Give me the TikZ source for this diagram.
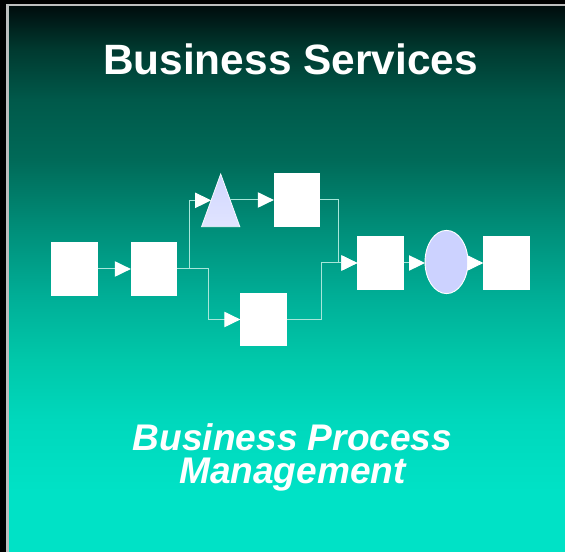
\documentclass[tikz,border=0pt]{standalone}
\usepackage{fontspec}
\setmainfont{Liberation Sans}
\usetikzlibrary{arrows.meta,shapes.geometric}
\definecolor{g0}{HTML}{000E0E}
\definecolor{g1}{HTML}{003A30}
\definecolor{g2}{HTML}{00594A}
\definecolor{g3}{HTML}{006A58}
\definecolor{g4}{HTML}{008F7A}
\definecolor{g5}{HTML}{00B098}
\definecolor{g6}{HTML}{00C8AA}
\definecolor{g7}{HTML}{00D8BC}
\definecolor{g8}{HTML}{00E2C6}
\definecolor{wirecol}{HTML}{A8E6DA}
\definecolor{frame}{HTML}{BEBEBE}
\definecolor{ellfill}{HTML}{CCD2FF}
\pgfdeclareverticalshading{slidebg}{100bp}{
  color(0bp)=(g8);
  color(25bp)=(g8);
  color(30.5bp)=(g8);
  color(37.1bp)=(g7);
  color(42.6bp)=(g6);
  color(48.1bp)=(g5);
  color(54.5bp)=(g4);
  color(61bp)=(g3);
  color(66.5bp)=(g2);
  color(71.05bp)=(g1);
  color(75bp)=(g0);
  color(100bp)=(g0)
}
\tikzset{
  x=0.75pt,y=-0.75pt,
  boxnode/.style={fill=white,inner sep=0pt,outer sep=0pt,minimum width=34.7pt,minimum height=40.4pt},
  trinode/.style={isosceles triangle,isosceles triangle stretches,shape border rotate=90,
    minimum width=28.7pt,minimum height=39.5pt,inner sep=0pt,outer sep=0pt,
    draw=white!85!ellfill,line width=0.6pt,top color=ellfill!90!white,bottom color=ellfill!60!white},
  ellnode/.style={ellipse,fill=ellfill,draw=white,line width=0.7pt,inner sep=0pt,outer sep=0pt,minimum width=32.2pt,minimum height=47.4pt},
  wire/.style={draw=wirecol,line width=0.75pt,-{Triangle[length=12pt,width=11.5pt,color=white,fill=white]}},
  titletext/.style={font=\fontsize{31.8pt}{36pt}\selectfont\bfseries,text=white,inner sep=0pt,anchor=base},
  subtext/.style={font=\fontsize{27.8pt}{24.75pt}\selectfont\bfseries\itshape,text=white,inner sep=0pt,align=center,anchor=base}
}
\begin{document}
\begin{tikzpicture}
\useasboundingbox (0,0) rectangle (565,552);
\fill[black] (0,0) rectangle (565,552);
\fill[frame] (6,4) rectangle (565,552);
\shade[shading=slidebg] (9,7) rectangle (565,552);

\node[titletext] (title) at (290.5,75) {Business Services};
\node[subtext] (sub) at (292.5,483.5) {Business Process\\Management};

\node[boxnode] (a) at (74.5,269) {};
\node[boxnode] (b) at (154,269) {};
\node[trinode,anchor=apex] (tri) at (220.7,174) {};
\node[boxnode] (c) at (297,200) {};
\node[boxnode] (d) at (263.5,319.5) {};
\node[boxnode] (e) at (380.5,263) {};
\node[ellnode] (ell) at (446.5,262) {};
\node[boxnode] (f) at (506.5,263) {};

\coordinate (up) at (189,269);
\coordinate (down) at (208.3,269);
\coordinate (cturn) at (338.7,200);
\coordinate (dturn) at (321.7,319.5);

\draw[wire] (a.east) -- (b.west);
\draw[wire] (b.east) -- (up) |- (tri.left side);
\draw[wire] (b.east) -- (down) |- (d.west);
\draw[wire] (tri.right side |- c.west) -- (c.west);
\draw[wire] (c.east) -- (cturn) |- (e.west);
\draw[wire] (d.east) -- (dturn) |- (e.west);
\draw[wire] (e.east) -- (ell.west |- e.east);
\draw[wire] (ell.east |- f.west) -- (f.west);
\end{tikzpicture}
\end{document}
